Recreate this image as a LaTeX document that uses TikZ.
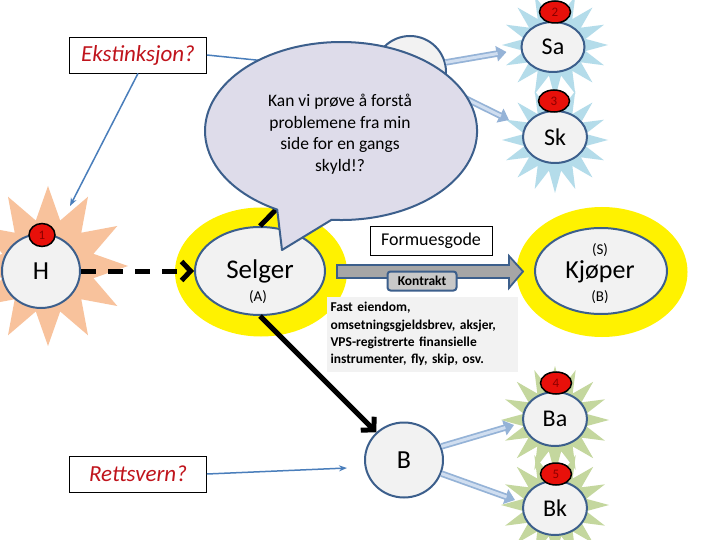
\documentclass[tikz,border=0pt]{standalone}
\usepackage{fontspec}
\setmainfont{Carlito}
\usetikzlibrary{shapes.geometric,arrows.meta,calc}
\definecolor{dblue}{HTML}{3C5F8C}
\definecolor{nodefill}{HTML}{F2F2F2}
\definecolor{callfill}{HTML}{DEDCEA}
\definecolor{qred}{HTML}{C0141C}
\definecolor{ablue}{HTML}{4A7EBB}
\definecolor{paleo}{HTML}{95B3D7}
\definecolor{palei}{HTML}{D0DEF0}
\definecolor{orangeS}{HTML}{F8C29C}
\definecolor{blueS}{HTML}{B4DCEA}
\definecolor{greenS}{HTML}{C4D79E}
\definecolor{badgered}{HTML}{E8100A}
\definecolor{badgetext}{HTML}{8B0000}
\definecolor{arrowgray}{HTML}{A6A6A6}
\definecolor{kfill}{HTML}{C8C8C8}
\definecolor{infofill}{HTML}{F2F2F2}
\newcommand\palearrow[2]{%
  \draw[line width=6.5pt, draw=paleo, -{Triangle[length=10pt,width=15pt]}] #1 -- #2;
  \draw[line width=3pt, draw=palei, shorten >=9pt] #1 -- #2;}
\begin{document}
\begin{tikzpicture}[x=1pt,y=-1pt,
  circ/.style={ellipse, draw=dblue, line width=2pt, fill=nodefill, inner sep=0},
  badge/.style={ellipse, draw=black, line width=1.5pt, fill=badgered, minimum width=31pt, minimum height=22pt, inner sep=0, font=\fontsize{13}{13}\selectfont, text=badgetext},
  burst/.style={star, star point ratio=1.7, inner sep=0, draw=none},
  qbox/.style={draw=black, line width=0.8pt, fill=white, text=qred, font=\itshape\fontsize{23}{23}\selectfont, minimum width=137pt, minimum height=36pt, inner sep=0},
  halo/.style={ellipse, fill=yellow, inner sep=0},
  thinarrow/.style={draw=ablue, line width=1.5pt, -{Stealth[length=8pt,width=6pt]}},
  heavy/.style={line width=5pt, -{Straight Barb[length=9pt,width=19pt]}},
  big/.style={font=\fontsize{26}{26}\selectfont},
  mid/.style={font=\fontsize{24}{24}\selectfont},
  small/.style={font=\fontsize{15}{15}\selectfont}
]
\useasboundingbox (0,0) rectangle (720,540);
\fill[white] (0,0) rectangle (720,540);

% starbursts
\node[burst, fill=orangeS, star points=12, minimum size=160pt] (starH) at (48,266) {};
\node[burst, fill=blueS, star points=16, minimum size=106pt] (starSa) at (555,45) {};
\node[burst, fill=blueS, star points=16, minimum size=106pt] (starSk) at (555,140) {};
\node[burst, fill=greenS, star points=16, minimum size=108pt] (starBa) at (555,420) {};
\node[burst, fill=greenS, star points=16, minimum size=108pt] (starBk) at (555,505) {};

% halos
\node[halo, minimum width=172pt, minimum height=129pt] (haloA) at (261,272) {};
\node[halo, minimum width=171pt, minimum height=130pt] (haloB) at (602,272) {};

% main nodes
\node[circ, minimum width=78pt, minimum height=74pt, big] (H) at (41,271) {H};
\node[circ, minimum width=130pt, minimum height=88pt] (Selger) at (260,271) {};
\node[big, font=\fontsize{27}{27}\selectfont] (selgerT) at (260,271) {Selger};
\node[small] (selgerA) at (258,297) {(A)};
\node[circ, minimum width=132pt, minimum height=86pt] (Kjoper) at (601,271) {};
\node[small] (kjS) at (600,250) {(S)};
\node[big] (kjT) at (600,272) {Kjøper};
\node[small] (kjB) at (600,297) {(B)};
\node[circ, minimum width=78pt, minimum height=75pt, big] (B) at (404,460) {B};
\node[circ, minimum width=63pt, minimum height=50pt, mid] (Sa) at (553,47) {Sa};
\node[circ, minimum width=64pt, minimum height=52pt, mid] (Sk) at (555,137) {Sk};
\node[circ, minimum width=64pt, minimum height=54pt, mid] (Ba) at (555,419) {Ba};
\node[circ, minimum width=64pt, minimum height=54pt, mid] (Bk) at (555,508) {Bk};
\node[circ, minimum width=72pt, minimum height=72pt] (S) at (410,72) {};

% badges
\node[badge, minimum width=26pt, minimum height=23pt] (b1) at (42,235) {1};
\node[badge] (b2) at (555,12) {2};
\node[badge] (b3) at (554,101) {3};
\node[badge] (b4) at (556,383) {4};
\node[badge] (b5) at (556,474) {5};

% question boxes
\node[qbox] (ekst) at (138,55) {Ekstinksjon?};
\node[qbox] (retts) at (138,474) {Rettsvern?};

% connectors
\draw[thinarrow] (ekst.south) -- ([shift={(29,-27)}]H.north);
\draw[thinarrow] (ekst.east) -- (S.west);
\draw[thinarrow] (retts.east) -- ([shift={(-17,8)}]B.west);
\draw[heavy, dash pattern=on 15pt off 12pt] (H.east) -- (Selger.west);
\draw[heavy] (Selger.south) -- (B);
\draw[heavy] (Selger.north) -- (S);
\palearrow{(S.15)}{([shift={(-14,5)}]Sa.west)}
\palearrow{(S.-25)}{([shift={(-13,-17)}]Sk.west)}
\palearrow{(B.20)}{([shift={(-8,6)}]Ba.west)}
\palearrow{(B.-20)}{([shift={(-7,-8)}]Bk.west)}

% big gray arrow Selger -> Kjoper
\filldraw[fill=arrowgray, draw=dblue, line width=1.8pt, line join=miter]
  (337,265) -- (509,265) -- (509,256) -- (523,271.5) -- (509,288) -- (509,278) -- (337,278) -- cycle;
\node[draw=dblue, line width=2pt, fill=kfill, rounded corners=3pt, minimum width=69pt, minimum height=19pt, inner sep=0, font=\bfseries\fontsize{13.5}{13.5}\selectfont] (kontrakt) at (422,281) {Kontrakt};
\node[draw=black, line width=0.8pt, fill=white, minimum width=122pt, minimum height=29pt, inner sep=0, font=\fontsize{18}{18}\selectfont] (formue) at (431,241) {Formuesgode};
\node[fill=infofill, minimum width=191pt, minimum height=75pt, inner sep=0, text width=183pt, align=left, font=\bfseries\fontsize{13.5}{17.3}\selectfont] (info) at (422,334) {Fast eiendom,\\omsetningsgjeldsbrev, aksjer,\\VPS-registrerte finansielle\\instrumenter, fly, skip, osv.};

% callout
\filldraw[fill=callfill, draw=dblue, line width=2pt, line join=round]
  (277.2,209.6) arc[start angle=118, end angle=454, x radius=136, y radius=89] -- (282,250) -- cycle;
\node[align=center, font=\fontsize{17.5}{21.5}\selectfont] (calltext) at (340,134) {Kan vi prøve å forstå\\problemene fra min\\side for en gangs\\skyld!?};
\end{tikzpicture}
\end{document}
